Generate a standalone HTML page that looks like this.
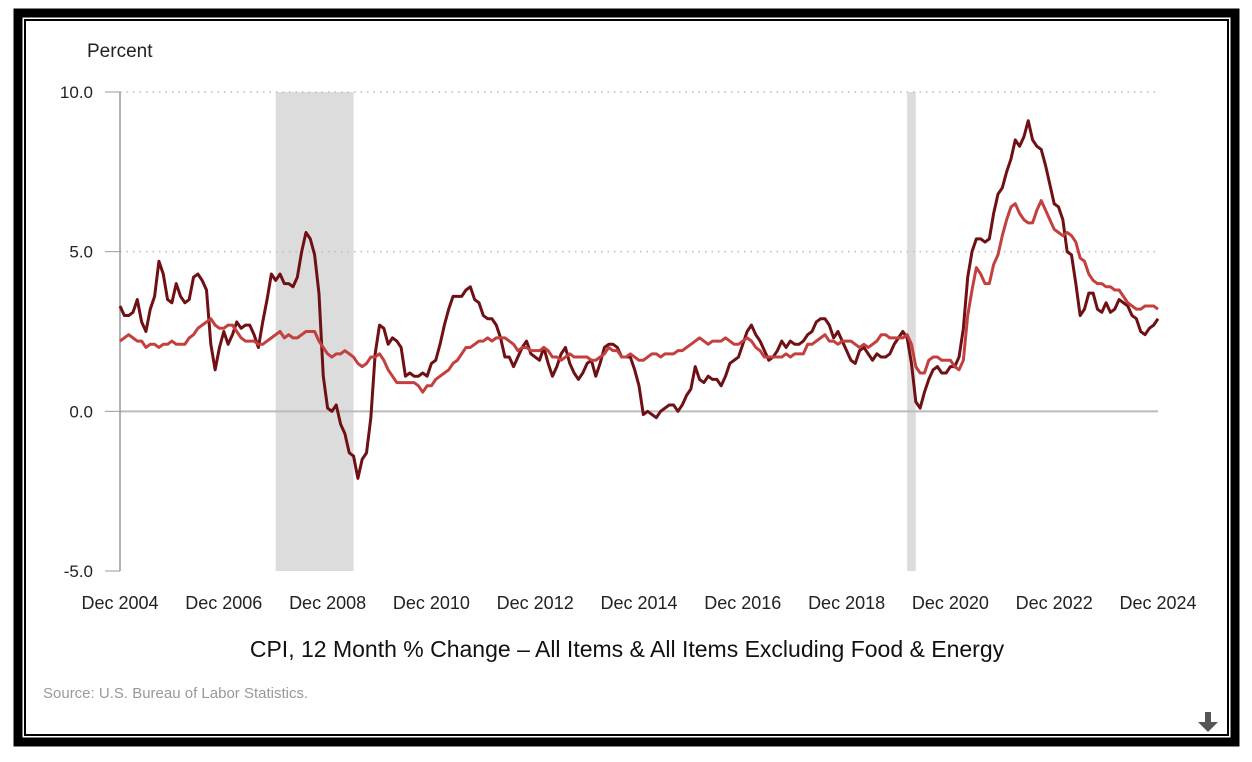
<!DOCTYPE html>
<html><head><meta charset="utf-8"><style>
body{margin:0;background:#fff;width:1252px;height:762px;overflow:hidden;font-family:"Liberation Sans",sans-serif}
svg{position:absolute;left:0;top:0}
</style></head><body>
<svg width="1252" height="762">
<rect x="18" y="13" width="1217" height="729" fill="none" stroke="#000" stroke-width="9"/>
<rect x="25" y="20" width="1203" height="715" fill="none" stroke="#000" stroke-width="2"/>
<g id="bands"></g>
<g id="grid"></g>
<g id="lines"></g>
<text x="87" y="57" font-size="19" fill="#222">Percent</text>
<text x="627" y="657" font-size="23" text-anchor="middle" fill="#111">CPI, 12 Month % Change – All Items &amp; All Items Excluding Food &amp; Energy</text>
<text x="43" y="698" font-size="15" fill="#999">Source: U.S. Bureau of Labor Statistics.</text>
<g><rect x="1205" y="712" width="6" height="12" fill="#555"/><polygon points="1198,722 1218,722 1208,732" fill="#555"/></g>
</svg>
<script>
const allItems=[3.3,
3.0,3.0,3.1,3.5,2.8,2.5,3.2,3.6,4.7,4.3,3.5,3.4,
4.0,3.6,3.4,3.5,4.2,4.3,4.1,3.8,2.1,1.3,2.0,2.5,
2.1,2.4,2.8,2.6,2.7,2.7,2.4,2.0,2.8,3.5,4.3,4.1,
4.3,4.0,4.0,3.9,4.2,5.0,5.6,5.4,4.9,3.7,1.1,0.1,
0.0,0.2,-0.4,-0.7,-1.3,-1.4,-2.1,-1.5,-1.3,-0.2,1.8,2.7,
2.6,2.1,2.3,2.2,2.0,1.1,1.2,1.1,1.1,1.2,1.1,1.5,
1.6,2.1,2.7,3.2,3.6,3.6,3.6,3.8,3.9,3.5,3.4,3.0,
2.9,2.9,2.7,2.3,1.7,1.7,1.4,1.7,2.0,2.2,1.8,1.7,
1.6,2.0,1.5,1.1,1.4,1.8,2.0,1.5,1.2,1.0,1.2,1.5,
1.6,1.1,1.5,2.0,2.1,2.1,2.0,1.7,1.7,1.7,1.3,0.8,
-0.1,0.0,-0.1,-0.2,0.0,0.1,0.2,0.2,0.0,0.2,0.5,0.7,
1.4,1.0,0.9,1.1,1.0,1.0,0.8,1.1,1.5,1.6,1.7,2.1,
2.5,2.7,2.4,2.2,1.9,1.6,1.7,1.9,2.2,2.0,2.2,2.1,
2.1,2.2,2.4,2.5,2.8,2.9,2.9,2.7,2.3,2.5,2.2,1.9,
1.6,1.5,1.9,2.0,1.8,1.6,1.8,1.7,1.7,1.8,2.1,2.3,
2.5,2.3,1.5,0.3,0.1,0.6,1.0,1.3,1.4,1.2,1.2,1.4,
1.4,1.7,2.6,4.2,5.0,5.4,5.4,5.3,5.4,6.2,6.8,7.0,
7.5,7.9,8.5,8.3,8.6,9.1,8.5,8.3,8.2,7.7,7.1,6.5,
6.4,6.0,5.0,4.9,4.0,3.0,3.2,3.7,3.7,3.2,3.1,3.4,
3.1,3.2,3.5,3.4,3.3,3.0,2.9,2.5,2.4,2.6,2.7,2.9];
const coreItems=[2.2,
2.3,2.4,2.3,2.2,2.2,2.0,2.1,2.1,2.0,2.1,2.1,2.2,
2.1,2.1,2.1,2.3,2.4,2.6,2.7,2.8,2.9,2.7,2.6,2.6,
2.7,2.7,2.5,2.3,2.2,2.2,2.2,2.1,2.1,2.2,2.3,2.4,
2.5,2.3,2.4,2.3,2.3,2.4,2.5,2.5,2.5,2.2,2.0,1.8,
1.7,1.8,1.8,1.9,1.8,1.7,1.5,1.4,1.5,1.7,1.7,1.8,
1.6,1.3,1.1,0.9,0.9,0.9,0.9,0.9,0.8,0.6,0.8,0.8,
1.0,1.1,1.2,1.3,1.5,1.6,1.8,2.0,2.0,2.1,2.2,2.2,
2.3,2.2,2.3,2.3,2.3,2.2,2.1,1.9,2.0,2.0,1.9,1.9,
1.9,2.0,1.9,1.7,1.7,1.6,1.7,1.8,1.7,1.7,1.7,1.7,
1.6,1.6,1.7,1.8,2.0,1.9,1.9,1.7,1.7,1.8,1.7,1.6,
1.6,1.7,1.8,1.8,1.7,1.8,1.8,1.8,1.9,1.9,2.0,2.1,
2.2,2.3,2.2,2.1,2.2,2.2,2.2,2.3,2.2,2.1,2.1,2.2,
2.3,2.2,2.0,1.9,1.7,1.7,1.7,1.7,1.7,1.8,1.7,1.8,
1.8,1.8,2.1,2.1,2.2,2.3,2.4,2.2,2.2,2.1,2.2,2.2,
2.2,2.1,2.0,2.1,2.0,2.1,2.2,2.4,2.4,2.3,2.3,2.3,
2.3,2.4,2.1,1.4,1.2,1.2,1.6,1.7,1.7,1.6,1.6,1.6,
1.4,1.3,1.6,3.0,3.8,4.5,4.3,4.0,4.0,4.6,4.9,5.5,
6.0,6.4,6.5,6.2,6.0,5.9,5.9,6.3,6.6,6.3,6.0,5.7,
5.6,5.5,5.6,5.5,5.3,4.8,4.7,4.3,4.1,4.0,4.0,3.9,
3.9,3.8,3.8,3.6,3.4,3.3,3.2,3.2,3.3,3.3,3.3,3.2];
const xTickLabels=["Dec 2004","Dec 2006","Dec 2008","Dec 2010","Dec 2012","Dec 2014","Dec 2016","Dec 2018","Dec 2020","Dec 2022","Dec 2024"];
const yTicks=[10,5,0,-5];
const recessions=[[36,54],[182,184]];
const X0=120,X1=1158,Y10=92,Ym5=571;
const xs=i=>X0+(X1-X0)*i/240;
const ys=v=>Y10+(10-v)*(Ym5-Y10)/15;
const NS="http://www.w3.org/2000/svg";
function mk(tag,attrs,parent){const e=document.createElementNS(NS,tag);for(const k in attrs)e.setAttribute(k,attrs[k]);parent.appendChild(e);return e;}
const gB=document.getElementById('bands'),gG=document.getElementById('grid'),gL=document.getElementById('lines');
recessions.forEach(r=>{const w=Math.max(xs(r[1])-xs(r[0]),8);
const e=mk('rect',{x:xs(r[0]),y:Y10,width:w,height:Ym5-Y10,fill:'#dcdcdc'},gB);

});
yTicks.forEach(v=>{const y=ys(v);
if(v===0){const l=mk('line',{x1:X0,x2:X1,y1:y,y2:y,stroke:'#bbb','stroke-width':2},gG);}
else if(v>0){const l=mk('line',{x1:X0,x2:X1,y1:y,y2:y,stroke:'#bbb','stroke-width':1.5,'stroke-dasharray':'1.5 5'},gG);}
mk('line',{x1:X0-15,x2:X0,y1:y,y2:y,stroke:'#999','stroke-width':1},gG);
const t=mk('text',{x:93,y:y+6,'font-size':17,'text-anchor':'end',fill:'#222'},gG);t.textContent=v.toFixed(1);

});
mk('line',{x1:X0,x2:X0,y1:Y10,y2:Ym5,stroke:'#999','stroke-width':1.5},gG);
xTickLabels.forEach((s,i)=>{const t=mk('text',{x:xs(i*24),y:609,'font-size':18,'text-anchor':'middle',fill:'#222'},gG);t.textContent=s;

});
function line(arr,color,name){const p=mk('polyline',{points:arr.map((v,i)=>xs(i)+','+ys(v)).join(' '),fill:'none',stroke:color,'stroke-width':3,'stroke-linejoin':'round'},gL);

}
line(allItems,'#6e1014','all-items-line');
line(coreItems,'#c4403f','core-line');
</script>
</body></html>
